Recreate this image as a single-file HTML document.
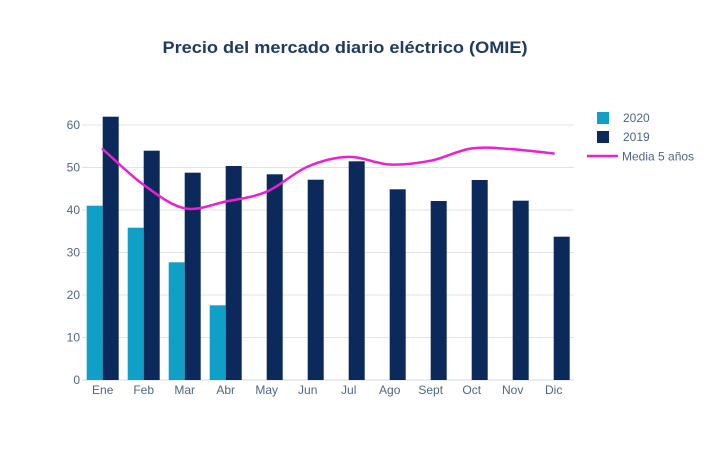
<!DOCTYPE html>
<html>
<head>
<meta charset="utf-8">
<style>
  html,body{margin:0;padding:0;background:#fff;}
  body{width:720px;height:463px;overflow:hidden;}
  svg{display:block;}
  text{font-family:"Liberation Sans",sans-serif;}
</style>
</head>
<body>
<svg width="720" height="463" viewBox="0 0 720 463" xmlns="http://www.w3.org/2000/svg">
  <rect width="720" height="463" fill="#fff"/>
  <!-- title -->
  <text x="345" y="53" text-anchor="middle" font-size="17" font-weight="bold" fill="#1f3a63" textLength="365" lengthAdjust="spacingAndGlyphs">Precio del mercado diario eléctrico (OMIE)</text>

  <!-- gridlines -->
  <g stroke="#e3e3e3" stroke-width="1">
    <line x1="82" x2="574" y1="125" y2="125"/>
    <line x1="82" x2="574" y1="167.5" y2="167.5"/>
    <line x1="82" x2="574" y1="210" y2="210"/>
    <line x1="82" x2="574" y1="252.5" y2="252.5"/>
    <line x1="82" x2="574" y1="295" y2="295"/>
    <line x1="82" x2="574" y1="337.5" y2="337.5"/>
    <line x1="82" x2="574" y1="380" y2="380" stroke="#dadada"/>
  </g>

  <!-- y tick labels -->
  <g font-size="12" fill="#506784" text-anchor="end">
    <text x="80" y="129">60</text>
    <text x="80" y="171.5">50</text>
    <text x="80" y="214">40</text>
    <text x="80" y="256.5">30</text>
    <text x="80" y="299">20</text>
    <text x="80" y="341.5">10</text>
    <text x="80" y="384">0</text>
  </g>

  <!-- 2020 bars -->
  <g fill="#0f9fc7">
    <rect x="86.7" y="205.7" width="16" height="174.3"/>
    <rect x="127.7" y="227.7" width="16" height="152.3"/>
    <rect x="168.7" y="262.3" width="16" height="117.7"/>
    <rect x="209.7" y="305.3" width="16" height="74.7"/>
  </g>

  <!-- 2019 bars -->
  <g fill="#0b2a5b">
    <rect x="102.7" y="116.7" width="16" height="263.3"/>
    <rect x="143.7" y="150.7" width="16" height="229.3"/>
    <rect x="184.7" y="172.7" width="16" height="207.3"/>
    <rect x="225.7" y="166" width="16" height="214"/>
    <rect x="266.7" y="174.3" width="16" height="205.7"/>
    <rect x="307.7" y="179.7" width="16" height="200.3"/>
    <rect x="348.7" y="161.3" width="16" height="218.7"/>
    <rect x="389.7" y="189.3" width="16" height="190.7"/>
    <rect x="430.7" y="201" width="16" height="179"/>
    <rect x="471.7" y="180" width="16" height="200"/>
    <rect x="512.7" y="200.7" width="16" height="179.3"/>
    <rect x="553.7" y="236.7" width="16" height="143.3"/>
  </g>

  <!-- Media 5 años line -->
  <path fill="none" stroke="#ec1fd2" stroke-width="2.5" stroke-linejoin="round" stroke-linecap="round"
    d="M102.7,149.2
       C116.4,161.1 130.0,175.05 143.7,184.9
       C157.4,194.75 171.0,205.53 184.7,208.3
       C198.4,211.07 212.0,204.27 225.7,201.5
       C239.4,198.73 253.0,197.52 266.7,191.7
       C280.4,185.88 294.0,172.4 307.7,166.6
       C321.4,160.8 335.0,157.25 348.7,156.9
       C362.4,156.55 376.0,163.87 389.7,164.5
       C403.4,165.13 417.0,163.38 430.7,160.7
       C444.4,158.02 458.0,150.32 471.7,148.4
       C485.4,146.48 499.0,148.35 512.7,149.2
       C526.4,150.05 540.0,152.07 553.7,153.5"/>

  <!-- x tick labels -->
  <g font-size="12" fill="#506784" text-anchor="middle">
    <text x="102.7" y="394">Ene</text>
    <text x="143.7" y="394">Feb</text>
    <text x="184.7" y="394">Mar</text>
    <text x="225.7" y="394">Abr</text>
    <text x="266.7" y="394">May</text>
    <text x="307.7" y="394">Jun</text>
    <text x="348.7" y="394">Jul</text>
    <text x="389.7" y="394">Ago</text>
    <text x="430.7" y="394">Sept</text>
    <text x="471.7" y="394">Oct</text>
    <text x="512.7" y="394">Nov</text>
    <text x="553.7" y="394">Dic</text>
  </g>

  <!-- legend -->
  <rect x="597" y="112" width="12" height="12" fill="#0f9fc7"/>
  <rect x="597" y="131" width="12" height="12" fill="#0b2a5b"/>
  <line x1="587" x2="618" y1="156" y2="156" stroke="#ec1fd2" stroke-width="2.5"/>
  <g font-size="12" fill="#506784">
    <text x="623" y="122">2020</text>
    <text x="623" y="141">2019</text>
    <text x="622" y="160.5">Media 5 años</text>
  </g>
</svg>
</body>
</html>
